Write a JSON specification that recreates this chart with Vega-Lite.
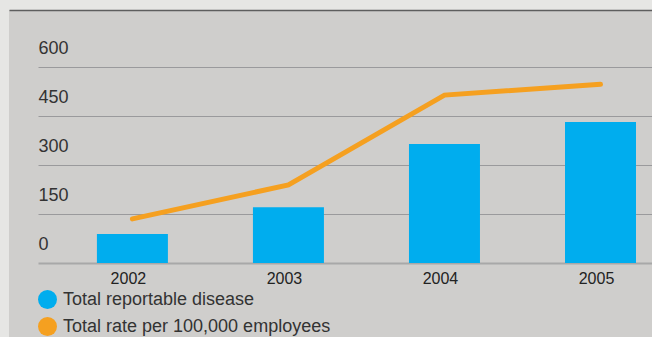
{
  "$schema": "https://vega.github.io/schema/vega-lite/v6.json",
  "width": 643,
  "height": 327,
  "autosize": "none",
  "padding": {"left": 9, "top": 10, "right": 0, "bottom": 0},
  "background": "#e6e6e4",
  "view": {"fill": "#cfcecc", "stroke": null},
  "config": {"font": "Liberation Sans"},
  "data": {
    "values": [
      {"year": "2002", "disease": 89, "rate": 135},
      {"year": "2003", "disease": 171, "rate": 239},
      {"year": "2004", "disease": 364, "rate": 514},
      {"year": "2005", "disease": 432, "rate": 547}
    ]
  },
  "resolve": {"axis": {"x": "independent"}},
  "layer": [
    {
      "mark": {"type": "bar"},
      "encoding": {
        "x": {
          "field": "year",
          "type": "nominal",
          "scale": {"paddingInner": 0.545, "paddingOuter": 0.333, "align": 0.846},
          "axis": {
            "orient": "bottom",
            "offset": -74,
            "domain": false,
            "ticks": false,
            "grid": false,
            "labelPadding": 7,
            "labelFontSize": 16,
            "labelOffset": -4,
            "labelAngle": 0,
            "labelColor": "#222222",
            "title": null
          }
        },
        "y": {
          "field": "disease",
          "type": "quantitative",
          "scale": {"domain": [-226.5, 774.5], "nice": false, "zero": false},
          "axis": {
            "orient": "left",
            "offset": -29,
            "values": [0, 150, 300, 450, 600],
            "domain": false,
            "grid": false,
            "ticks": true,
            "tickSize": -614,
            "tickColor": {"condition": {"test": "datum.value === 0", "value": "#a8a8a8"}, "value": "#9a9a9c"},
            "tickWidth": {"condition": {"test": "datum.value === 0", "value": 2}, "value": 1},
            "labelAlign": "left",
            "labelPadding": 614,
            "labelBaseline": "middle",
            "labelOffset": -18.5,
            "labelFontSize": 18,
            "labelColor": "#333333",
            "title": null
          }
        },
        "color": {
          "datum": "Total reportable disease",
          "type": "nominal",
          "scale": {
            "domain": ["Total reportable disease", "Total rate per 100,000 employees"],
            "range": ["#00adee", "#f5a020"]
          },
          "legend": {
            "orient": "none",
            "legendX": 29,
            "legendY": 280,
            "title": null,
            "symbolType": "circle",
            "symbolSize": 361,
            "symbolStrokeWidth": 0,
            "symbolOpacity": 1,
            "labelFontSize": 18,
            "labelLimit": 0,
            "labelColor": "#333333",
            "labelOffset": 6,
            "rowPadding": 8
          }
        }
      }
    },
    {
      "mark": {"type": "line", "strokeWidth": 5, "strokeCap": "round", "color": "#f5a020"},
      "encoding": {
        "x": {
          "field": "year",
          "type": "nominal",
          "axis": {
            "orient": "top",
            "domain": true,
            "domainColor": "#5e5e5e",
            "domainWidth": 1.5,
            "labels": false,
            "ticks": false,
            "grid": false,
            "title": null
          }
        },
        "y": {"field": "rate", "type": "quantitative"}
      }
    }
  ]
}
